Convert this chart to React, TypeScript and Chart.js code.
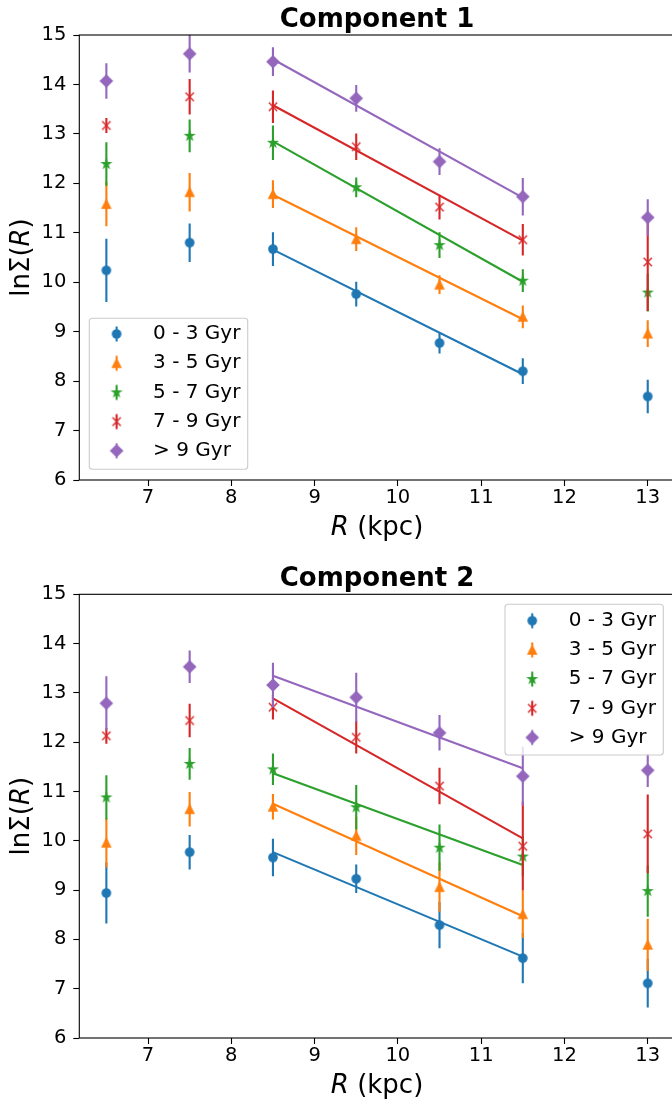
import React, { useEffect, useRef } from 'react';
import { Chart, registerables } from 'chart.js';

Chart.register(...registerables);

// ---------- data ----------
const R_KPC = [6.5, 7.5, 8.5, 9.5, 10.5, 11.5, 13];
const FIT_R = [8.5, 11.5];
const AGE_BINS = ['0 - 3 Gyr', '3 - 5 Gyr', '5 - 7 Gyr', '7 - 9 Gyr', '> 9 Gyr'];
const X_TICKS = [7, 8, 9, 10, 11, 12, 13];
const Y_TICKS = [6, 7, 8, 9, 10, 11, 12, 13, 14, 15];
// axis titles as [text, italic] runs
const X_TITLE = [['R', true], [' (kpc)', false]];
const Y_TITLE = [['lnΣ(', false], ['R', true], [')', false]];

// Component 1
const c1Age0to3 = [10.24, 10.8, 10.67, 9.76, 8.77, 8.2, 7.69];
const c1Err0to3 = [0.64, 0.39, 0.34, 0.25, 0.21, 0.26, 0.34];
const c1Age3to5 = [11.58, 11.82, 11.78, 10.87, 9.95, 9.3, 8.96];
const c1Err3to5 = [0.45, 0.39, 0.28, 0.24, 0.19, 0.23, 0.27];
const c1Age5to7 = [12.39, 12.96, 12.82, 11.92, 10.75, 10.03, 9.79];
const c1Err5to7 = [0.44, 0.33, 0.35, 0.2, 0.26, 0.23, 0.38];
const c1Age7to9 = [13.17, 13.75, 13.55, 12.74, 11.52, 10.86, 10.41];
const c1Err7to9 = [0.15, 0.36, 0.33, 0.27, 0.25, 0.32, 0.99];
const c1Age9plus = [14.07, 14.62, 14.46, 13.72, 12.44, 11.73, 11.31];
const c1Err9plus = [0.36, 0.38, 0.29, 0.27, 0.27, 0.38, 0.37];
const c1Fit0to3 = [10.66, 8.14];
const c1Fit3to5 = [11.77, 9.25];
const c1Fit5to7 = [12.85, 10.01];
const c1Fit7to9 = [13.58, 10.84];
const c1Fit9plus = [14.51, 11.71];

// Component 2
const c2Age0to3 = [8.94, 9.77, 9.66, 9.23, 8.29, 7.62, 7.11];
const c2Err0to3 = [0.62, 0.35, 0.38, 0.29, 0.47, 0.51, 0.49];
const c2Age3to5 = [9.96, 10.64, 10.69, 10.1, 9.06, 8.51, 7.89];
const c2Err3to5 = [0.5, 0.35, 0.26, 0.39, 0.5, 0.48, 0.53];
const c2Age5to7 = [10.88, 11.56, 11.45, 10.68, 9.86, 9.68, 8.98];
const c2Err5to7 = [0.45, 0.32, 0.32, 0.45, 0.47, 0.4, 0.52];
const c2Age7to9 = [12.13, 12.44, 12.71, 12.1, 11.11, 9.89, 10.14];
const c2Err7to9 = [0.16, 0.34, 0.25, 0.33, 0.37, 0.9, 0.8];
const c2Age9plus = [12.79, 13.53, 13.16, 12.91, 12.19, 11.31, 11.43];
const c2Err9plus = [0.55, 0.33, 0.45, 0.5, 0.36, 0.6, 0.34];
const c2Fit0to3 = [9.77, 7.65];
const c2Fit3to5 = [10.75, 8.47];
const c2Fit5to7 = [11.37, 9.51];
const c2Fit7to9 = [12.89, 10.05];
const c2Fit9plus = [13.35, 11.47];

// ---------- styles ----------
const COLORS = ['#1f77b4', '#ff7f0e', '#2ca02c', '#d62728', '#9467bd'];
const MARKERS = ['o', '^', '*', 'x', 'D'];
const FONT = "'DejaVu Sans', sans-serif";
const MS = 8.3; // marker size px
const EDGE = 1.39;
const LW = 2.1;

function drawMarker(ctx: CanvasRenderingContext2D, kind: string, cx: number, cy: number, color: string) {
  const h = MS / 2;
  ctx.fillStyle = color;
  ctx.strokeStyle = color;
  ctx.lineWidth = EDGE;
  ctx.lineJoin = 'miter';
  ctx.beginPath();
  if (kind === 'o') {
    ctx.arc(cx, cy, h, 0, Math.PI * 2);
  } else if (kind === '^') {
    ctx.moveTo(cx, cy - h);
    ctx.lineTo(cx - h, cy + h);
    ctx.lineTo(cx + h, cy + h);
    ctx.closePath();
  } else if (kind === '*') {
    const inner = h * 0.381966;
    for (let i = 0; i < 10; i++) {
      const r = i % 2 === 0 ? h : inner;
      const a = -Math.PI / 2 + (i * Math.PI) / 5;
      const px = cx + r * Math.cos(a);
      const py = cy + r * Math.sin(a);
      if (i === 0) ctx.moveTo(px, py);
      else ctx.lineTo(px, py);
    }
    ctx.closePath();
  } else if (kind === 'D') {
    const d = h * Math.SQRT2;
    ctx.moveTo(cx, cy - d);
    ctx.lineTo(cx + d, cy);
    ctx.lineTo(cx, cy + d);
    ctx.lineTo(cx - d, cy);
    ctx.closePath();
  } else if (kind === 'x') {
    ctx.moveTo(cx - h, cy - h);
    ctx.lineTo(cx + h, cy + h);
    ctx.moveTo(cx - h, cy + h);
    ctx.lineTo(cx + h, cy - h);
    ctx.stroke();
    return;
  }
  ctx.fill();
  ctx.stroke();
}

function makeMarkerCanvas(kind: string, color: string, withBar: boolean) {
  const c = document.createElement('canvas');
  const w = 16;
  const h = withBar ? 20 : 16;
  c.width = w;
  c.height = h;
  const ctx = c.getContext('2d') as CanvasRenderingContext2D;
  const cx = w / 2;
  const cy = h / 2;
  if (withBar) {
    ctx.strokeStyle = color;
    ctx.lineWidth = LW;
    ctx.beginPath();
    ctx.moveTo(cx, cy - 7.5);
    ctx.lineTo(cx, cy + 7.5);
    ctx.stroke();
  }
  drawMarker(ctx, kind, cx, cy, color);
  return c;
}

function buildDatasets(values: number[][], errs: number[][], fits: number[][], markerImgs: any[]) {
  const ds: any[] = [];
  let k = 0;
  values.forEach((vals, i) => {
    const bars: any[] = [];
    R_KPC.forEach((r, j) => {
      bars.push({ x: r, y: vals[j] - errs[i][j] });
      bars.push({ x: r, y: vals[j] + errs[i][j] });
      bars.push({ x: r, y: null });
    });
    ds.push({
      type: 'line', label: '', data: bars, borderColor: COLORS[i], borderWidth: LW,
      pointRadius: 0, spanGaps: false, fill: false, tension: 0, borderCapStyle: 'butt',
      order: 1000 - k++,
    });
    ds.push({
      type: 'scatter', label: AGE_BINS[i], data: R_KPC.map((r, j) => ({ x: r, y: vals[j] })),
      pointStyle: markerImgs[i], pointRadius: 5, backgroundColor: COLORS[i], borderColor: COLORS[i],
      showLine: false, order: 1000 - k++,
    });
    ds.push({
      type: 'line', label: '', data: FIT_R.map((r, j) => ({ x: r, y: fits[i][j] })),
      borderColor: COLORS[i], borderWidth: LW, pointRadius: 0, fill: false, tension: 0,
      order: 1000 - k++,
    });
  });
  return ds;
}

function drawRuns(ctx: CanvasRenderingContext2D, runs: any[], size: number) {
  const fonts = runs.map((r) => `${r[1] ? 'italic ' : ''}${size}px ${FONT}`);
  const widths = runs.map((r, i) => { ctx.font = fonts[i]; return ctx.measureText(r[0]).width; });
  const total = widths.reduce((a, b) => a + b, 0);
  let x = -total / 2;
  ctx.textBaseline = 'middle';
  ctx.textAlign = 'left';
  ctx.fillStyle = '#000';
  runs.forEach((r, i) => {
    ctx.font = fonts[i];
    ctx.fillText(r[0], x, 0);
    x += widths[i];
  });
}

const framePlugin = {
  id: 'frame',
  beforeLayout(chart: any) {
    const lg = chart.legend;
    if (lg) lg._layers = () => [{ z: 10, draw: (ca: any) => lg.draw(ca) }];
  },
  afterLayout(chart: any, _args: any, opts: any) {
    const lg = chart.legend;
    if (!lg || !opts || !opts.items) return;
    lg.left = opts.items.left;
    lg.top = opts.items.top;
    lg.width = 200;
    lg.height = 170;
    lg.right = lg.left + 200;
    lg.bottom = lg.top + 170;
  },
  afterDatasetsDraw(chart: any, _args: any, opts: any) {
    const ctx = chart.ctx;
    const { left, top, right, bottom } = chart.chartArea;
    ctx.save();
    ctx.strokeStyle = '#000';
    ctx.lineWidth = 1.1;
    ctx.strokeRect(left, top, right - left, bottom - top);
    if (opts && opts.box) {
      const b = opts.box;
      ctx.beginPath();
      ctx.roundRect(b.x, b.y, b.w, b.h, 3);
      ctx.fillStyle = 'rgba(255,255,255,0.8)';
      ctx.fill();
      ctx.strokeStyle = '#cccccc';
      ctx.lineWidth = 1.1;
      ctx.stroke();
    }
    ctx.restore();
  },
  afterDraw(chart: any, _args: any, opts: any) {
    const ctx = chart.ctx;
    const { left, top, right, bottom } = chart.chartArea;
    ctx.save();
    ctx.translate((left + right) / 2, bottom + opts.xTitleOffset);
    drawRuns(ctx, X_TITLE, 26);
    ctx.restore();
    ctx.save();
    ctx.translate(opts.yTitleX, (top + bottom) / 2);
    ctx.rotate(-Math.PI / 2);
    drawRuns(ctx, Y_TITLE, 26);
    ctx.restore();
  },
};

function makeConfig(p: any, markerImgs: any[], legendImgs: any[]) {
  return {
    type: 'scatter',
    data: { datasets: buildDatasets(p.values, p.errs, p.fits, markerImgs) },
    plugins: [framePlugin],
    options: {
      responsive: false,
      animation: false,
      devicePixelRatio: 1,
      events: [],
      layout: { padding: { left: 0, right: 25.2, top: 0, bottom: 0 } },
      scales: {
        x: {
          type: 'linear', min: 6.175, max: 13.325,
          afterFit: (s: any) => { s.height = p.xAxisHeight; },
          afterBuildTicks: (s: any) => { s.ticks = X_TICKS.map((v) => ({ value: v })); },
          ticks: { font: { family: FONT, size: 19.5 }, color: '#000', padding: 0.5, maxRotation: 0, autoSkip: false, callback: (v: any) => String(v) },
          grid: { display: true, drawOnChartArea: false, drawTicks: true, tickLength: 6, tickColor: '#000', tickWidth: 1.1 },
          border: { display: false },
          title: { display: false, text: 'R (kpc)' },
        },
        y: {
          type: 'linear', min: 6, max: 15,
          afterFit: (s: any) => { s.width = 79.3; },
          afterBuildTicks: (s: any) => { s.ticks = Y_TICKS.map((v) => ({ value: v })); },
          ticks: { font: { family: FONT, size: 19.5 }, color: '#000', padding: 7, autoSkip: false, callback: (v: any) => String(v) },
          grid: { display: true, drawOnChartArea: false, drawTicks: true, tickLength: 6, tickColor: '#000', tickWidth: 1.1 },
          border: { display: false },
          title: { display: false, text: 'lnΣ(R)' },
        },
      },
      plugins: {
        frame: { box: p.legendBox, items: p.legendItems, xTitleOffset: 48, yTitleX: 22 },
        title: {
          display: true, text: p.title, fullSize: false, color: '#000',
          font: { family: FONT, size: 26, weight: 'bold' },
          padding: { top: p.titlePadTop, bottom: -0.6 },
        },
        legend: {
          display: true, position: 'chartArea', align: 'start',
          labels: {
            usePointStyle: true, pointStyleWidth: 53, padding: 9.2, color: '#000',
            font: { family: FONT, size: 20 },
            filter: (item: any) => AGE_BINS.includes(item.text),
            sort: (a: any, b: any) => a.datasetIndex - b.datasetIndex,
            generateLabels: (chart: any) => {
              const base = (Chart as any).defaults.plugins.legend.labels.generateLabels(chart);
              return base.map((it: any) => {
                const idx = AGE_BINS.indexOf(it.text);
                return idx >= 0 ? { ...it, pointStyle: legendImgs[idx], fontColor: '#000' } : it;
              });
            },
          },
        },
        tooltip: { enabled: false },
      },
    },
  };
}

const PANEL1 = {
  title: 'Component 1',
  values: [c1Age0to3, c1Age3to5, c1Age5to7, c1Age7to9, c1Age9plus],
  errs: [c1Err0to3, c1Err3to5, c1Err5to7, c1Err7to9, c1Err9plus],
  fits: [c1Fit0to3, c1Fit3to5, c1Fit5to7, c1Fit7to9, c1Fit9plus],
  titlePadTop: 4.4,
  xAxisHeight: 70,
  legendBox: { x: 89.3, y: 318.3, w: 158.4, h: 151 },
  legendItems: { left: 80.9, top: 314.8 },
};

const PANEL2 = {
  title: 'Component 2',
  values: [c2Age0to3, c2Age3to5, c2Age5to7, c2Age7to9, c2Age9plus],
  errs: [c2Err0to3, c2Err3to5, c2Err5to7, c2Err7to9, c2Err9plus],
  fits: [c2Fit0to3, c2Fit3to5, c2Fit5to7, c2Fit7to9, c2Fit9plus],
  titlePadTop: 13.7,
  xAxisHeight: 82,
  legendBox: { x: 505, y: 54.3, w: 158.3, h: 150.7 },
  legendItems: { left: 496.5, top: 51.5 },
};

export default function App() {
  const topRef = useRef<HTMLCanvasElement | null>(null);
  const botRef = useRef<HTMLCanvasElement | null>(null);

  useEffect(() => {
    const markerImgs = MARKERS.map((m, i) => makeMarkerCanvas(m, COLORS[i], false));
    const legendImgs = MARKERS.map((m, i) => makeMarkerCanvas(m, COLORS[i], true));
    const charts: any[] = [];
    if (topRef.current) charts.push(new Chart(topRef.current, makeConfig(PANEL1, markerImgs, legendImgs) as any));
    if (botRef.current) charts.push(new Chart(botRef.current, makeConfig(PANEL2, markerImgs, legendImgs) as any));
    return () => charts.forEach((c) => c.destroy());
  }, []);

  return (
    <div style={{ position: 'absolute', left: 0, top: 0, width: 672, height: 1100, overflow: 'hidden', background: '#fff' }}>
      <canvas ref={topRef} width={700} height={550} style={{ position: 'absolute', left: 0, top: 0 }} />
      <canvas ref={botRef} width={700} height={570} style={{ position: 'absolute', left: 0, top: 550 }} />
    </div>
  );
}
